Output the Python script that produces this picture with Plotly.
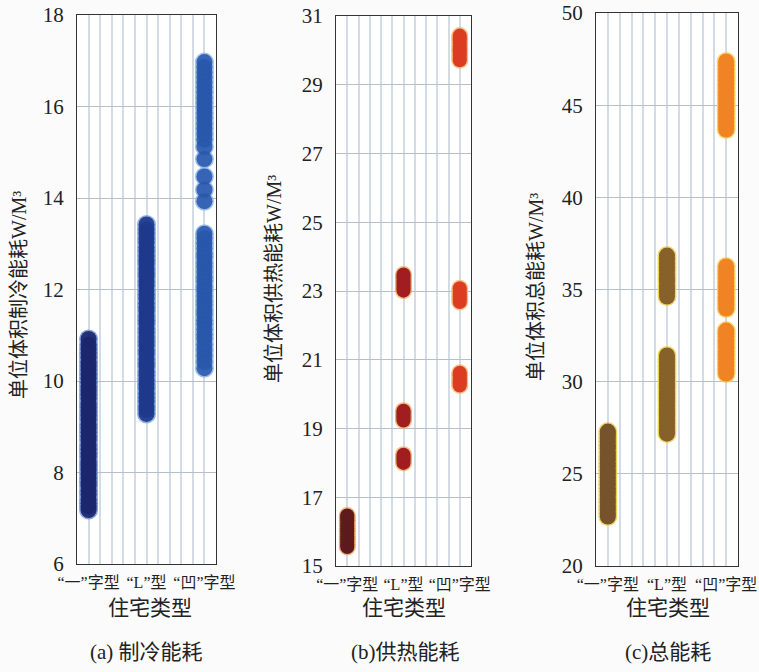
import plotly.graph_objects as go

# ---------------- data ----------------
categories = ["“一”字型", "“L”型", "“凹”字型"]
cat_pos = [1, 6, 11]

# (a) cooling energy per unit volume
cool_yi = [7.18, 7.26, 7.33, 7.41, 7.52, 7.60, 7.71, 7.79, 7.88, 7.97, 8.06, 8.15, 8.23, 8.34,
           8.42, 8.51, 8.60, 8.71, 8.79, 8.88, 8.97, 9.05, 9.16, 9.24, 9.33, 9.42, 9.51, 9.62,
           9.70, 9.79, 9.88, 9.97, 10.06, 10.15, 10.24, 10.33, 10.41, 10.52, 10.61, 10.70,
           10.79, 10.92]
cool_L = [9.28, 9.37, 9.45, 9.56, 9.64, 9.73, 9.84, 9.92, 10.01, 10.12, 10.20, 10.31, 10.39,
          10.48, 10.59, 10.67, 10.78, 10.86, 10.95, 11.06, 11.14, 11.25, 11.33, 11.42, 11.53,
          11.61, 11.70, 11.81, 11.89, 11.98, 12.09, 12.17, 12.28, 12.36, 12.45, 12.56, 12.64,
          12.73, 12.84, 12.92, 13.03, 13.11, 13.22, 13.31, 13.42]
cool_ao = [10.28, 10.42, 10.55, 10.68, 10.80, 10.93, 11.02, 11.13, 11.24, 11.33, 11.45, 11.54,
           11.66, 11.75, 11.86, 11.97, 12.06, 12.18, 12.27, 12.38, 12.49, 12.58, 12.70, 12.79,
           12.90, 13.01, 13.12, 13.22, 13.93, 14.18, 14.47, 14.85, 15.12, 15.28, 15.40, 15.52,
           15.63, 15.75, 15.86, 15.97, 16.08, 16.19, 16.31, 16.42, 16.53, 16.64, 16.75, 16.86,
           16.97]

# (b) heating energy per unit volume
heat_yi = [15.55, 15.62, 15.70, 15.78, 15.85, 15.93, 16.01, 16.09, 16.17, 16.25, 16.33,
           16.41, 16.47]
heat_L = [18.00, 18.06, 18.12, 18.18, 18.24, 19.23, 19.29, 19.35, 19.41, 19.47, 19.52,
          23.01, 23.08, 23.15, 23.22, 23.29, 23.36, 23.42, 23.48]
heat_ao = [20.25, 20.32, 20.40, 20.47, 20.55, 20.62, 22.68, 22.76, 22.84, 22.92, 23.00, 23.08,
           29.71, 29.79, 29.87, 29.95, 30.03, 30.11, 30.19, 30.27, 30.35, 30.43]

# (c) total energy per unit volume
tot_yi = [22.68, 22.86, 23.07, 23.25, 23.46, 23.63, 23.85, 24.04, 24.22, 24.43, 24.61, 24.82,
          25.00, 25.19, 25.40, 25.58, 25.79, 25.97, 26.16, 26.37, 26.55, 26.76, 26.94, 27.12,
          27.29]
tot_L = [27.18, 27.37, 27.55, 27.76, 27.94, 28.15, 28.33, 28.52, 28.73, 28.91, 29.12, 29.30,
         29.49, 29.70, 29.88, 30.09, 30.27, 30.46, 30.67, 30.85, 31.06, 31.24, 31.42,
         34.62, 34.83, 35.04, 35.22, 35.43, 35.61, 35.82, 36.03, 36.21, 36.42, 36.63, 36.84]
tot_ao = [30.44, 30.65, 30.86, 31.04, 31.25, 31.46, 31.64, 31.85, 32.06, 32.24, 32.45, 32.62,
          32.77, 33.97, 34.18, 34.39, 34.57, 34.78, 34.99, 35.17, 35.38, 35.59, 35.80, 36.01,
          36.25, 43.68, 43.89, 44.10, 44.31, 44.52, 44.70, 44.91, 45.12, 45.33, 45.54, 45.72,
          45.93, 46.14, 46.35, 46.56, 46.74, 46.95, 47.16, 47.37]

y_titles = ["单位体积制冷能耗W/M³", "单位体积供热能耗W/M³", "单位体积总能耗W/M³"]
x_title = "住宅类型"
captions = ["(a) 制冷能耗", "(b)供热能耗", "(c)总能耗"]

# ---------------- figure ----------------
W, H = 759, 672
fig = go.Figure()

def px_x(p):
    return p / W

def px_y(p):
    return 1 - p / H

panels = [
    dict(xd=(77, 216), yd=(15, 564), rng=[6, 18], dt=2, size=16,
         series=[(cool_yi, "rgba(28,38,108,0.92)", "rgba(120,150,210,0.85)"),
                 (cool_L, "rgba(30,58,140,0.92)", "rgba(130,165,220,0.85)"),
                 (cool_ao, "rgba(40,86,172,0.88)", "rgba(150,185,232,0.9)")]),
    dict(xd=(336, 471), yd=(16, 566), rng=[15, 31], dt=2, size=14,
         series=[(heat_yi, "#5e1a1c", "rgba(232,160,90,0.75)"),
                 (heat_L, "#a11d1f", "rgba(240,170,90,0.75)"),
                 (heat_ao, "#dc3d22", "rgba(246,180,110,0.75)")]),
    dict(xd=(596, 738), yd=(13, 566), rng=[20, 50], dt=5, size=16,
         series=[(tot_yi, "#77532c", "rgba(230,205,70,0.8)"),
                 (tot_L, "#87612a", "rgba(235,210,70,0.8)"),
                 (tot_ao, "#f08424", "rgba(248,205,80,0.8)")]),
]

serif = "Liberation Serif, Noto Sans CJK SC, serif"
grid_v = "#d3dbe5"
grid_h = "#b6bec9"

for i, p in enumerate(panels):
    n = "" if i == 0 else str(i + 1)
    for k, (vals, fill, edge) in enumerate(p["series"]):
        xs = [cat_pos[k]] * len(vals)
        # glow / outline layer
        fig.add_trace(go.Scatter(
            x=xs, y=vals, mode="markers",
            marker=dict(size=p["size"] + 3, color=edge, line=dict(width=0)),
            xaxis="x" + n, yaxis="y" + n, showlegend=False, hoverinfo="skip"))
        # fill layer
        fig.add_trace(go.Scatter(
            x=xs, y=vals, mode="markers",
            marker=dict(size=p["size"], color=fill, line=dict(width=0)),
            xaxis="x" + n, yaxis="y" + n, showlegend=False, hoverinfo="y"))
    fig.layout["xaxis" + n] = dict(
        domain=[px_x(p["xd"][0]), px_x(p["xd"][1])], anchor="y" + n,
        range=[0, 12], tickvals=cat_pos, ticktext=categories,
        showgrid=True, gridcolor=grid_v, gridwidth=1.5,
        minor=dict(tick0=0, dtick=1, showgrid=True, gridcolor=grid_v, gridwidth=1.5),
        showline=True, mirror=True, linecolor="#333", linewidth=1.3,
        ticks="", ticklabelstandoff=4, zeroline=False, automargin=False,
        tickfont=dict(family=serif, size=16, color="#222"))
    fig.layout["yaxis" + n] = dict(
        domain=[px_y(p["yd"][1]), px_y(p["yd"][0])], anchor="x" + n,
        range=p["rng"], dtick=p["dt"], tick0=p["rng"][0],
        showgrid=True, gridcolor=grid_h, gridwidth=1,
        showline=True, mirror=True, linecolor="#333", linewidth=1.3,
        ticks="", ticklabelstandoff=8, zeroline=False, automargin=False,
        tickfont=dict(family=serif, size=21, color="#222"))

ytitle_pos = [(19, 295), (274, 279), (536, 287)]
xtitle_pos = [(150, 608), (404, 608), (668, 608)]
cap_pos = [(146, 652), (405, 652), (668, 652)]
for i in range(3):
    fig.add_annotation(text=y_titles[i], x=px_x(ytitle_pos[i][0]), y=px_y(ytitle_pos[i][1]),
                       xref="paper", yref="paper", showarrow=False, textangle=-90,
                       font=dict(family=serif, size=20, color="#222"),
                       xanchor="center", yanchor="middle")
    fig.add_annotation(text=x_title, x=px_x(xtitle_pos[i][0]), y=px_y(xtitle_pos[i][1]),
                       xref="paper", yref="paper", showarrow=False,
                       font=dict(family=serif, size=21, color="#222"),
                       xanchor="center", yanchor="middle")
    fig.add_annotation(text=captions[i], x=px_x(cap_pos[i][0]), y=px_y(cap_pos[i][1]),
                       xref="paper", yref="paper", showarrow=False,
                       font=dict(family=serif, size=21, color="#222"),
                       xanchor="center", yanchor="middle")

fig.update_layout(width=W, height=H, margin=dict(l=0, r=0, t=0, b=0),
                  paper_bgcolor="#fbfbfb", plot_bgcolor="#ffffff")

fig.write_html("out.html", config={"displayModeBar": False},
               post_script="document.body.style.margin='0';document.body.style.overflow='hidden';")
